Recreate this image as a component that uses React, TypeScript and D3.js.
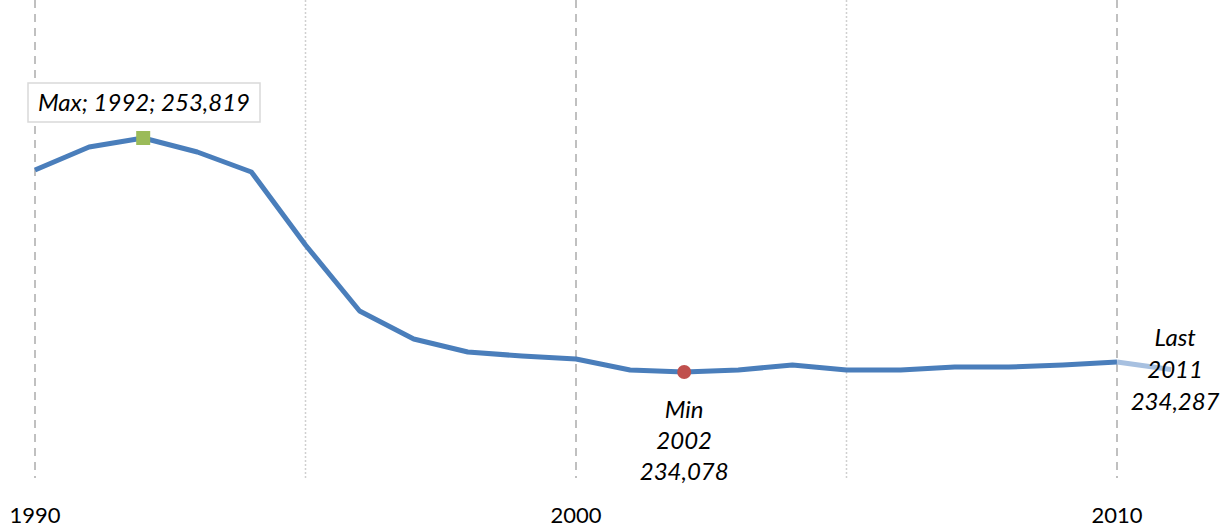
import React from "react";
import * as d3 from "d3";

const years = [1990,1991,1992,1993,1994,1995,1996,1997,1998,1999,2000,2001,2002,2003,2004,2005,2006,2007,2008,2009,2010,2011];
const values = [251119,253059,253819,252637,250950,244792,239224,236862,235765,235428,235175,234247,234078,234247,234668,234247,234250,234500,234500,234668,234922,234287];
const majorTicks = [1990, 2000, 2010];
const minorTicks = [1995, 2005];

const W = 1228, H = 531;
const FONT = "Lato, 'Open Sans', sans-serif";

export default function App() {
  const x = d3.scaleLinear().domain([1990, 2010]).range([35, 1117]);
  const y = d3.scaleLinear().domain([234078, 253819]).range([372, 138]);
  const pts = years.map((yr, i) => [x(yr), y(values[i])] as [number, number]);
  const line = d3.line();
  const mainPath = line(pts.slice(0, pts.length - 1)) as string;
  const lastPath = line(pts.slice(pts.length - 2)) as string;
  const maxI = values.indexOf(d3.max(values) as number);
  const minI = values.indexOf(d3.min(values) as number);
  const lastI = values.length - 1;
  const fmt = d3.format(",");
  return (
    <svg width={W} height={H} style={{ position: "absolute", left: 0, top: 0 }}>
      <rect width={W} height={H} fill="#fff" />
      {majorTicks.map(t => (
        <line key={t} x1={x(t)} x2={x(t)} y1={0} y2={478} stroke="#c0c0c0" strokeWidth={2} strokeDasharray="8,6" />
      ))}
      {minorTicks.map(t => (
        <line key={t} x1={x(t)} x2={x(t)} y1={0} y2={478} stroke="#d0d0d0" strokeWidth={1.5} strokeDasharray="2,2" />
      ))}
      {majorTicks.map(t => (
        <text key={t} x={x(t)} y={523} textAnchor="middle" fontFamily={FONT} fontSize={22} fill="#000">{t}</text>
      ))}
      <path d={mainPath} fill="none" stroke="#4a7ebb" strokeWidth={5} strokeLinejoin="round" />
      <path d={lastPath} fill="none" stroke="#a7c0e0" strokeWidth={5} />
      {/* Max */}
      <rect x={pts[maxI][0] - 7} y={pts[maxI][1] - 7} width={14} height={14} fill="#9bbb59" />
      <rect x={28} y={83} width={232} height={39} fill="#fff" stroke="#d9d9d9" strokeWidth={1.5} />
      <text x={144} y={111} textAnchor="middle" fontFamily={FONT} fontStyle="italic" fontSize={24} fill="#000">
        {`Max; ${years[maxI]}; ${fmt(values[maxI])}`}
      </text>
      {/* Min */}
      <circle cx={pts[minI][0]} cy={pts[minI][1]} r={7} fill="#c0504d" />
      <text textAnchor="middle" fontFamily={FONT} fontStyle="italic" fontSize={24} fill="#000">
        <tspan x={pts[minI][0]} y={418}>Min</tspan>
        <tspan x={pts[minI][0]} y={449}>{years[minI]}</tspan>
        <tspan x={pts[minI][0]} y={480}>{fmt(values[minI])}</tspan>
      </text>
      {/* Last */}
      <text textAnchor="middle" fontFamily={FONT} fontStyle="italic" fontSize={24} fill="#000">
        <tspan x={pts[lastI][0] + 4} y={346}>Last</tspan>
        <tspan x={pts[lastI][0] + 4} y={378}>{years[lastI]}</tspan>
        <tspan x={pts[lastI][0] + 4} y={410}>{fmt(values[lastI])}</tspan>
      </text>
    </svg>
  );
}
